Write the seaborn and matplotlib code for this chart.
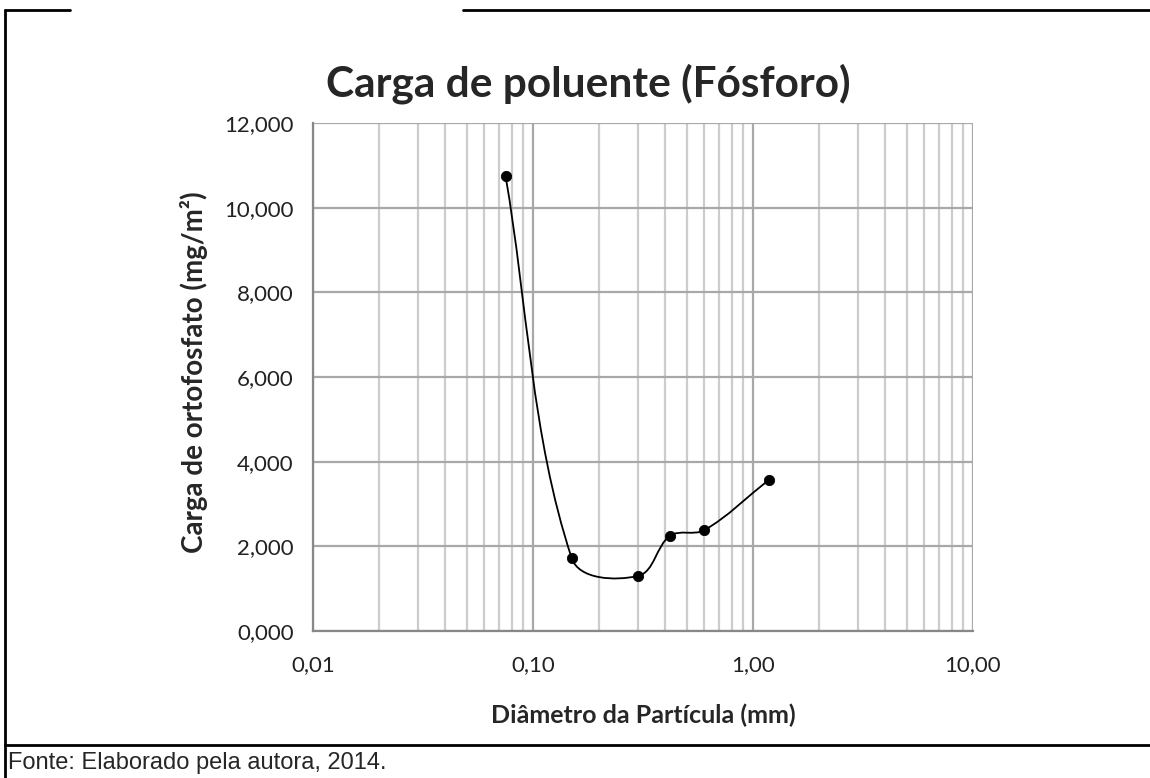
import numpy as np
import pandas as pd
import matplotlib
matplotlib.use("Agg")
import matplotlib.pyplot as plt
import seaborn as sns
from matplotlib.path import Path
from matplotlib.patches import PathPatch
from matplotlib.lines import Line2D
from matplotlib.ticker import FixedLocator, FuncFormatter, LogLocator, NullFormatter

# data
diametro = [0.075, 0.15, 0.30, 0.42, 0.60, 1.18]
carga = [10750, 1720, 1300, 2250, 2380, 3570]

x_ticks = [0.01, 0.1, 1, 10]
x_labels = ["0,01", "0,10", "1,00", "10,00"]
y_ticks = [0, 2000, 4000, 6000, 8000, 10000, 12000]

titulo = "Carga de poluente (Fósforo)"
rotulo_x = "Diâmetro da Partícula (mm)"
rotulo_y = "Carga de ortofosfato (mg/m²)"
fonte = "Fonte: Elaborado pela autora, 2014."

df = pd.DataFrame({"diametro": diametro, "carga": carga})

sns.set_style("white")
plt.rcParams["font.family"] = ["Lato", "DejaVu Sans"]

W, H = 1150, 778
fig = plt.figure(figsize=(W / 100, H / 100), dpi=100)
ax = fig.add_axes([313 / W, 1 - 631 / H, 660 / W, 508 / H])

ax.set_xscale("log")
ax.set_xlim(0.01, 10)
ax.set_ylim(0, 12000)

# ticks and grid
ax.xaxis.set_major_locator(FixedLocator(x_ticks))
ax.xaxis.set_minor_locator(LogLocator(base=10, subs=np.arange(2, 10)))
ax.xaxis.set_minor_formatter(NullFormatter())
ax.xaxis.set_major_formatter(FuncFormatter(lambda v, p: x_labels[x_ticks.index(v)] if v in x_ticks else ""))
ax.yaxis.set_major_locator(FixedLocator(y_ticks))
ax.yaxis.set_major_formatter(FuncFormatter(lambda v, p: f"{int(v) // 1000},000"))

ax.grid(which="major", axis="both", color="#a8a8a8", lw=1.6)
ax.grid(which="minor", axis="x", color="#cccccc", lw=1.6)
ax.set_axisbelow(True)

for s in ["top", "right"]:
    ax.spines[s].set_visible(False)
for s in ["left", "bottom"]:
    ax.spines[s].set_color("#888888")
    ax.spines[s].set_linewidth(1.6)

ax.tick_params(which="major", direction="out", length=7, width=1.4, color="#888888",
               labelsize=16, labelcolor="#222222")
ax.tick_params(axis="x", which="major", pad=10)
ax.tick_params(axis="y", which="major", pad=7)
ax.tick_params(which="minor", length=0)

# smoothed line (Excel-like bezier through the points, built in display space)
fig.canvas.draw()
pts = ax.transData.transform(np.column_stack([df["diametro"], df["carga"]]))
n = len(pts)
verts = [pts[0]]
codes = [Path.MOVETO]
for i in range(n - 1):
    p0 = pts[i - 1] if i > 0 else pts[i]
    p1 = pts[i]
    p2 = pts[i + 1]
    p3 = pts[i + 2] if i + 2 < n else pts[i + 1]
    seg = np.linalg.norm(p2 - p1)
    d1 = (p2 - p0) / np.linalg.norm(p2 - p0)
    d2 = (p3 - p1) / np.linalg.norm(p3 - p1)
    verts += [p1 + d1 * seg / 3, p2 - d2 * seg / 3, p2]
    codes += [Path.CURVE4] * 3
verts = ax.transData.inverted().transform(np.array(verts))
ax.add_patch(PathPatch(Path(verts, codes), facecolor="none", edgecolor="black", lw=1.3, zorder=3))

sns.scatterplot(data=df, x="diametro", y="carga", ax=ax, color="black", s=55,
                edgecolor="black", zorder=4, legend=False)

ax.set_xlabel(rotulo_x, fontsize=18, fontweight="bold")
ax.set_ylabel(rotulo_y, fontsize=20, fontweight="bold")
ax.xaxis.set_label_coords(0.5, (631 - 715) / 508)
ax.yaxis.set_label_coords((194 - 313) / 660, (631 - 372) / 508)
ax.xaxis.label.set_va("center")
ax.yaxis.label.set_va("center")
fig.text(588 / W, 1 - 84 / H, titulo, fontsize=30.5, fontweight="bold", ha="center", va="center")

# frame lines around the figure
lw = 2
fig.add_artist(Line2D([5 / W, 70 / W], [1 - 10 / H] * 2, color="black", lw=lw))
fig.add_artist(Line2D([463 / W, 1], [1 - 10 / H] * 2, color="black", lw=lw))
fig.add_artist(Line2D([5 / W, 5 / W], [0, 1 - 10 / H], color="black", lw=lw))
fig.add_artist(Line2D([5 / W, 1], [1 - 745 / H] * 2, color="black", lw=lw))
fig.text(8 / W, 1 - 763 / H, fonte, fontsize=17, family="Liberation Sans", va="center", ha="left")

fig.savefig("out.png", dpi=100)
